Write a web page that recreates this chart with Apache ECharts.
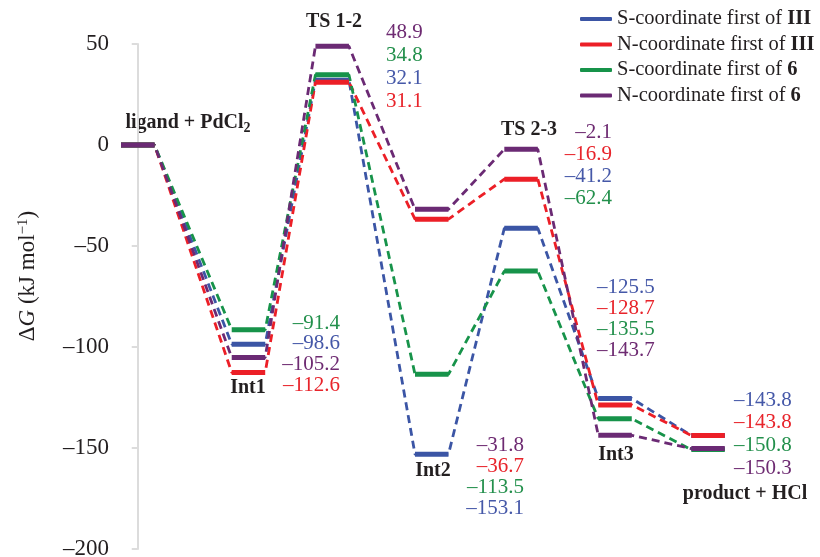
<!DOCTYPE html>
<html><head><meta charset="utf-8">
<script src="https://cdn.jsdelivr.net/npm/echarts@6/dist/echarts.min.js"></script>
<style>html,body{margin:0;padding:0;background:#fff}#c{width:820px;height:557px}</style>
</head><body><div id="c"></div>
<script>
// ---- data ----
const states = ['ligand + PdCl2', 'Int1', 'TS 1-2', 'Int2', 'TS 2-3', 'Int3', 'product + HCl'];
const stateX = [0, 1.19, 2.09, 3.16, 4.12, 5.13, 6.13];           // reaction coordinate
const seriesNames = ['S-coordinate first of III', 'N-coordinate first of III', 'S-coordinate first of 6', 'N-coordinate first of 6'];
const sIII = [0, -98.6, 32.1, -153.1, -41.2, -125.5, -143.8];
const nIII = [0, -112.6, 31.1, -36.7, -16.9, -128.7, -143.8];
const s6   = [0, -91.4, 34.8, -113.5, -62.4, -135.5, -150.8];
const n6   = [0, -105.2, 48.9, -31.8, -2.1, -143.7, -150.3];
const yTicks = [-200, -150, -100, -50, 0, 50];

// ---- styling ----
const FONT = "'Liberation Serif','Times New Roman',serif";
const lineColors = ['#3b55a5', '#ec1f27', '#17934a', '#6b2a74'];
const textColors = ['#4558a8', '#e8242b', '#23904c', '#6e2b72'];
const paths = [sIII, nIII, s6, n6];
const hw = 0.18;

const series = [];
paths.forEach((vals, k) => {
  const dash = [];
  vals.forEach((v, i) => { dash.push([stateX[i] - hw, v]); dash.push([stateX[i] + hw, v]); });
  series.push({
    name: seriesNames[k] + ' path', type: 'line', data: dash, symbol: 'none', silent: true, z: 2,
    lineStyle: { color: lineColors[k], width: 2.8, type: [8, 5] }
  });
});
paths.forEach((vals, k) => {
  const plat = [];
  vals.forEach((v, i) => {
    plat.push([stateX[i] - hw, v]); plat.push([stateX[i] + hw, v]);
    plat.push([stateX[i] + hw + 0.01, '-']);
  });
  series.push({
    name: seriesNames[k], type: 'line', data: plat, symbol: 'none', silent: true, z: 3,
    color: lineColors[k], connectNulls: false,
    lineStyle: { color: lineColors[k], width: 5, cap: 'butt' }
  });
});

const fmt = v => (v < 0 ? '\u2013' : '') + Math.abs(v).toFixed(1);

// value label blocks (layout only)
const labelBlocks = [
  { state: 2, order: [3, 2, 0, 1], x: 386, y: 32, dy: 23, align: 'left' },
  { state: 1, order: [2, 0, 3, 1], x: 340, y: 323, dy: 20.7, align: 'right' },
  { state: 3, order: [3, 1, 2, 0], x: 524, y: 445, dy: 21.3, align: 'right' },
  { state: 4, order: [3, 1, 0, 2], x: 612, y: 132, dy: 22, align: 'right' },
  { state: 5, order: [0, 1, 2, 3], x: 597, y: 287, dy: 21.3, align: 'left' },
  { state: 6, order: [0, 1, 2, 3], x: 734, y: 400, dy: 22.7, align: 'left' }
];
const graphics = [];
labelBlocks.forEach(b => {
  b.order.forEach((k, j) => {
    graphics.push({
      type: 'text', x: b.x, y: b.y + j * b.dy, silent: true,
      style: { text: fmt(paths[k][b.state]), fill: textColors[k], font: '21px ' + FONT,
               textAlign: b.align, textVerticalAlign: 'middle' }
    });
  });
});
// state names
const stateLabelPos = [[188, 123], [248, 388], [334, 22], [433, 471], [529, 130], [616, 455], [745, 494]];
const subRich = {
  m: { fontSize: 20, fontWeight: 'bold', fontFamily: FONT, fill: '#231f20', lineHeight: 24 },
  s: { fontSize: 14, fontWeight: 'bold', fontFamily: FONT, fill: '#231f20', lineHeight: 14, verticalAlign: 'bottom' }
};
states.forEach((s, i) => {
  const t = /PdCl2$/.test(s) ? '{m|' + s.replace(/2$/, '') + '}{s|2}' : '{m|' + s + '}';
  graphics.push({
    type: 'text', x: stateLabelPos[i][0], y: stateLabelPos[i][1], silent: true,
    style: { text: t, rich: subRich, textAlign: 'center', textVerticalAlign: 'middle' }
  });
});
// y axis name
graphics.push({
  type: 'text', x: 28, y: 276, rotation: Math.PI / 2, silent: true,
  style: {
    text: '{n|\u0394}{i|G}{n| (kJ mol}{p|\u22121}{n|)}',
    textAlign: 'center', textVerticalAlign: 'middle',
    rich: {
      n: { fontSize: 23, fontFamily: FONT, fill: '#231f20', lineHeight: 25 },
      i: { fontSize: 23, fontFamily: FONT, fontStyle: 'italic', fill: '#231f20', lineHeight: 25 },
      p: { fontSize: 15, fontFamily: FONT, fill: '#231f20', lineHeight: 15, verticalAlign: 'top' }
    }
  }
});

const chart = echarts.init(document.getElementById('c'), null, { renderer: 'canvas' });
chart.setOption({
  animation: false,
  backgroundColor: '#fff',
  grid: { left: 121, right: 31, top: 44, bottom: 8, containLabel: false, outerBoundsMode: 'none' },
  xAxis: { type: 'value', min: -0.18, max: 7, show: false },
  yAxis: {
    type: 'value', min: yTicks[0], max: yTicks[yTicks.length - 1], interval: 50,
    axisLine: { show: true, lineStyle: { color: '#dcdcdc', width: 2 } },
    axisTick: { show: true, length: 6, lineStyle: { color: '#dcdcdc', width: 2 } },
    splitLine: { show: false },
    axisLabel: { fontSize: 23, fontFamily: FONT, color: '#231f20', margin: 12,
                 formatter: v => String(v).replace('-', '\u2013') }
  },
  legend: {
    data: seriesNames, orient: 'vertical', left: 575, top: 3, itemGap: 3.5,
    icon: 'roundRect', itemWidth: 32, itemHeight: 4,
    formatter: n => n.replace(/ (III|6)$/, ' {b|$1}'),
    textStyle: { fontFamily: FONT, fontSize: 20.5, color: '#231f20', lineHeight: 22,
                 rich: { b: { fontFamily: FONT, fontSize: 20.5, fontWeight: 'bold', color: '#231f20', lineHeight: 22 } } }
  },
  series: series,
  graphic: graphics
});
</script></body></html>
